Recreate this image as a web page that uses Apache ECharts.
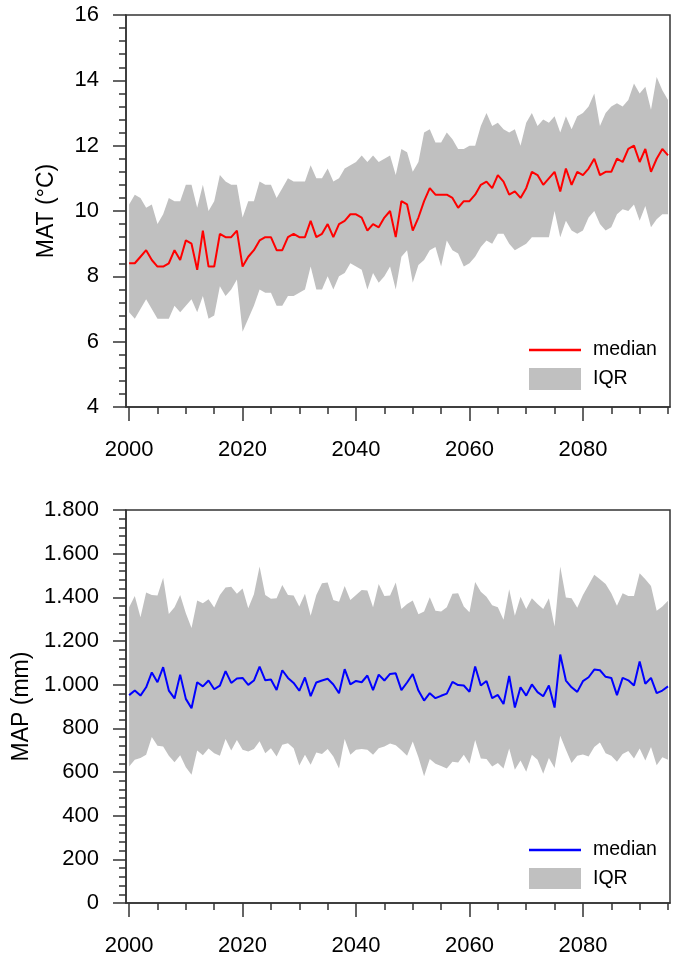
<!DOCTYPE html>
<html>
<head>
<meta charset="utf-8">
<script src="https://cdn.jsdelivr.net/npm/echarts@6/dist/echarts.min.js"></script>
<style>
html,body{margin:0;padding:0;background:#fff;}
#chart{width:675px;height:955px;}
</style>
</head>
<body>
<div id="chart"></div>
<script>
const years = [2000,2001,2002,2003,2004,2005,2006,2007,2008,2009,
2010,2011,2012,2013,2014,2015,2016,2017,2018,2019,
2020,2021,2022,2023,2024,2025,2026,2027,2028,2029,
2030,2031,2032,2033,2034,2035,2036,2037,2038,2039,
2040,2041,2042,2043,2044,2045,2046,2047,2048,2049,
2050,2051,2052,2053,2054,2055,2056,2057,2058,2059,
2060,2061,2062,2063,2064,2065,2066,2067,2068,2069,
2070,2071,2072,2073,2074,2075,2076,2077,2078,2079,
2080,2081,2082,2083,2084,2085,2086,2087,2088,2089,
2090,2091,2092,2093,2094,2095];

const xLabelYears = [2000,2020,2040,2060,2080];
const xMinorYears = [2005,2010,2015,2025,2030,2035,2045,2050,2055,2065,2070,2075,2085,2090,2095];

const matMedian = [8.4,8.4,8.6,8.8,8.5,8.3,8.3,8.4,8.8,8.5,
9.1,9.0,8.2,9.4,8.3,8.3,9.3,9.2,9.2,9.4,
8.3,8.6,8.8,9.1,9.2,9.2,8.8,8.8,9.2,9.3,
9.2,9.2,9.7,9.2,9.3,9.6,9.2,9.6,9.7,9.9,
9.9,9.8,9.4,9.6,9.5,9.8,10.0,9.2,10.3,10.2,
9.4,9.8,10.3,10.7,10.5,10.5,10.5,10.4,10.1,10.3,
10.3,10.5,10.8,10.9,10.7,11.1,10.9,10.5,10.6,10.4,
10.7,11.2,11.1,10.8,11.0,11.2,10.6,11.3,10.8,11.2,
11.1,11.3,11.6,11.1,11.2,11.2,11.6,11.5,11.9,12.0,
11.5,11.9,11.2,11.6,11.9,11.7];

const matUpper = [10.2,10.5,10.4,10.1,10.2,9.6,9.9,10.4,10.3,10.3,
10.8,10.8,10.1,10.8,10.0,10.3,11.1,10.9,10.8,10.8,
9.8,10.3,10.3,10.9,10.8,10.8,10.4,10.7,11.0,10.9,
10.9,10.9,11.4,11.0,11.0,11.3,10.9,11.0,11.3,11.4,
11.5,11.7,11.5,11.7,11.5,11.6,11.7,11.1,11.9,11.8,
11.2,11.5,12.4,12.5,12.1,12.1,12.4,12.2,11.9,11.9,
12.0,12.0,12.6,13.0,12.6,12.7,12.5,12.4,12.5,12.0,
12.7,13.0,12.6,12.8,12.7,12.9,12.4,12.9,12.5,12.9,
13.0,13.2,13.6,12.6,13.0,13.2,13.3,13.2,13.4,13.9,
13.6,13.8,13.1,14.1,13.7,13.4];

const matLower = [6.9,6.7,7.0,7.3,7.0,6.7,6.7,6.7,7.1,6.9,
7.1,7.3,6.9,7.4,6.7,6.8,7.7,7.4,7.6,7.9,
6.3,6.7,7.1,7.6,7.5,7.5,7.1,7.1,7.4,7.4,
7.5,7.6,8.3,7.6,7.6,8.0,7.6,8.0,8.1,8.4,
8.3,8.2,7.6,8.1,7.8,8.0,8.3,7.6,8.6,8.8,
7.8,8.35,8.5,8.8,8.9,8.3,9.1,8.8,8.7,8.3,
8.4,8.6,8.9,9.1,9.0,9.3,9.3,9.0,8.8,8.9,
9.0,9.2,9.2,9.2,9.2,10.0,9.2,9.7,9.4,9.3,
9.4,9.8,10.0,9.6,9.4,9.5,9.9,10.05,10.0,10.2,
9.7,10.15,9.5,9.75,9.9,9.9];

const mapMedian = [952,973,950,988,1056,1011,1080,973,937,1046,
935,892,1011,992,1019,979,996,1062,1008,1028,
1031,999,1019,1083,1020,1024,976,1066,1031,1008,
972,1033,947,1010,1019,1027,1001,961,1071,1001,
1017,1011,1042,975,1046,1019,1049,1052,975,1010,
1049,973,927,961,938,949,959,1013,998,996,
967,1083,996,1017,938,953,911,1040,895,988,
950,1001,966,947,996,895,1138,1019,988,967,
1016,1034,1069,1066,1036,1031,952,1031,1020,996,
1106,1004,1031,961,973,992];

const mapUpper = [1355,1406,1309,1422,1411,1408,1490,1324,1355,1411,
1327,1260,1385,1373,1391,1353,1411,1445,1449,1416,
1440,1350,1414,1541,1411,1393,1396,1457,1411,1408,
1358,1416,1316,1411,1464,1468,1388,1380,1452,1388,
1411,1434,1431,1355,1461,1406,1408,1468,1347,1370,
1385,1323,1335,1400,1338,1335,1355,1416,1419,1358,
1332,1470,1426,1403,1364,1355,1297,1437,1316,1403,
1347,1396,1370,1347,1396,1266,1541,1399,1396,1352,
1411,1457,1503,1483,1461,1419,1361,1419,1406,1406,
1510,1483,1452,1339,1358,1384];

const mapLower = [625,656,664,679,760,720,717,674,645,677,
622,587,699,677,708,686,674,751,699,747,
702,694,705,741,686,709,671,725,732,709,
630,679,633,689,683,705,671,616,751,679,
702,705,702,679,709,717,730,722,700,674,
740,668,580,659,638,628,616,647,644,679,
638,747,662,659,625,641,616,708,610,653,
601,679,656,592,664,618,766,702,641,674,
680,671,714,735,686,674,647,683,696,662,
708,653,714,631,668,656];

const FONT = "'Liberation Sans', Arial, sans-serif";
const AX = '#333333';
const GRAY = '#c0c0c0';

function pairs(vals) { return years.map((y, i) => [y, vals[i]]); }
function triples(lo, up) { return years.map((y, i) => [y, lo[i], up[i]]); }

function majorX(grid) {
  return {
    type: 'value', gridIndex: grid, min: 1999.45, max: 2095.35, position: 'bottom',
    axisLine: { show: true, lineStyle: { color: AX, width: 1.5 } },
    axisTick: { show: true, customValues: xLabelYears, length: 14, lineStyle: { color: AX, width: 1.5 } },
    axisLabel: { show: true, customValues: xLabelYears, formatter: v => String(v), fontSize: 22, color: '#000', fontFamily: FONT, margin: 32 },
    splitLine: { show: false }
  };
}
function minorX(grid) {
  return {
    type: 'value', gridIndex: grid, min: 1999.45, max: 2095.35, position: 'bottom',
    axisLine: { show: false },
    axisTick: { show: true, customValues: xMinorYears, length: 7, lineStyle: { color: AX, width: 1.5 } },
    axisLabel: { show: false },
    splitLine: { show: false }
  };
}
function yAx(grid, min, max, interval, name, fmt) {
  return {
    type: 'value', gridIndex: grid, min: min, max: max, interval: interval,
    name: name, nameLocation: 'middle', nameGap: 68,
    nameTextStyle: { fontSize: 23, color: '#000', fontFamily: FONT },
    axisLine: { show: true, lineStyle: { color: AX, width: 1.5 } },
    axisTick: { show: true, length: 13, lineStyle: { color: AX, width: 1.5 } },
    minorTick: { show: true, splitNumber: 5, length: 7, lineStyle: { color: AX, width: 1.5 } },
    axisLabel: { fontSize: 22, color: '#000', fontFamily: FONT, margin: 27, formatter: fmt },
    splitLine: { show: false }, minorSplitLine: { show: false }
  };
}
function thousands(v) {
  if (v >= 1000) { const s = String(v); return s.slice(0, s.length - 3) + '.' + s.slice(-3); }
  return String(v);
}

function legend(name, color, top, h) {
  return {
    left: 529, top: top, orient: 'vertical', selectedMode: false, padding: 0,
    itemWidth: 52, itemHeight: h, icon: 'rect',
    data: [{ name: name, icon: 'rect', itemStyle: { color: color, borderWidth: 0 } }],
    formatter: n => n.split(' ')[1],
    textStyle: { fontSize: 19.5, color: '#000', fontFamily: FONT, padding: [0, 0, 0, 7] },
    itemStyle: { borderWidth: 0 }, lineStyle: { width: 0 }
  };
}

function bandSeries(name, xi, yi, up, lo) {
  return {
    name: name, type: 'custom', xAxisIndex: xi, yAxisIndex: yi, data: triples(lo, up),
    itemStyle: { color: GRAY }, silent: true, z: 1,
    encode: { x: 0, y: [1, 2] },
    renderItem: function (params, api) {
      if (params.dataIndexInside !== 0) return null;
      const n = params.dataInsideLength;
      const top = [], bot = [];
      for (let i = 0; i < n; i++) {
        const x = api.value(0, i);
        top.push(api.coord([x, api.value(2, i)]));
        bot.push(api.coord([x, api.value(1, i)]));
      }
      const pts = top.concat(bot.reverse());
      return { type: 'polygon', shape: { points: pts }, style: { fill: GRAY, stroke: null } };
    }
  };
}

const chart = echarts.init(document.getElementById('chart'), null, { renderer: 'canvas' });
chart.setOption({
  animation: false,
  backgroundColor: '#fff',
  grid: [
    { left: 126, top: 15, width: 544, height: 392, show: true, borderColor: AX, borderWidth: 1.5, backgroundColor: 'transparent', containLabel: false, outerBoundsMode: 'none' },
    { left: 126, top: 510, width: 544, height: 393, show: true, borderColor: AX, borderWidth: 1.5, backgroundColor: 'transparent', containLabel: false, outerBoundsMode: 'none' }
  ],
  xAxis: [majorX(0), minorX(0), majorX(1), minorX(1)],
  yAxis: [
    yAx(0, 4, 16, 2, 'MAT (°C)', v => String(v)),
    yAx(1, 0, 1800, 200, 'MAP (mm)', thousands)
  ],
  legend: [
    legend('MAT median', '#ff0000', 340, 2.5),
    legend('MAT IQR', GRAY, 368, 22),
    legend('MAP median', '#0000ff', 840, 2.5),
    legend('MAP IQR', GRAY, 868, 21)
  ],
  series: [
    bandSeries('MAT IQR', 0, 0, matUpper, matLower),
    { name: 'MAT median', type: 'line', xAxisIndex: 0, yAxisIndex: 0, data: pairs(matMedian), symbol: 'none',
      lineStyle: { color: '#ff0000', width: 2 }, itemStyle: { color: '#ff0000' }, z: 3 },
    bandSeries('MAP IQR', 2, 1, mapUpper, mapLower),
    { name: 'MAP median', type: 'line', xAxisIndex: 2, yAxisIndex: 1, data: pairs(mapMedian), symbol: 'none',
      lineStyle: { color: '#0000ff', width: 2 }, itemStyle: { color: '#0000ff' }, z: 3 }
  ]
});
</script>
</body>
</html>
